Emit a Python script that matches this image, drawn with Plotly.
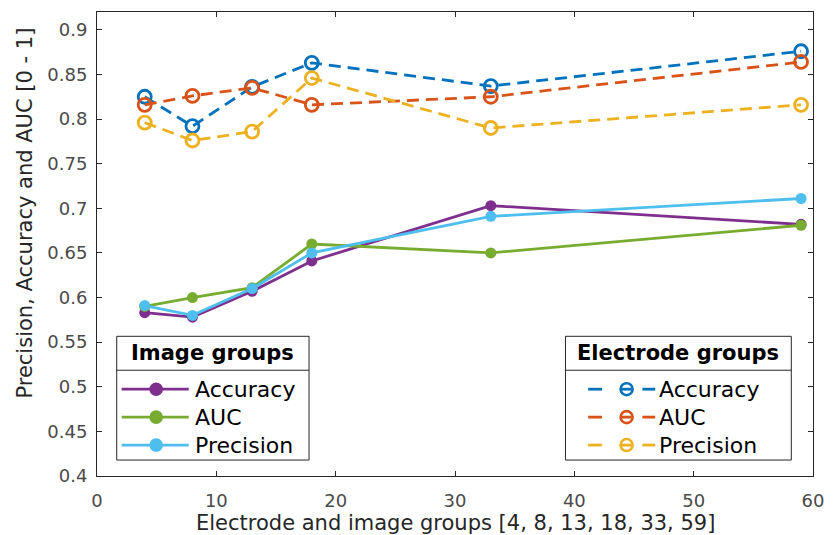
import plotly.graph_objects as go

# Group sizes (number of electrodes / images per group)
groups = [4, 8, 13, 18, 33, 59]

# Electrode-group metrics
elec_accuracy = [0.825, 0.792, 0.836, 0.863, 0.837, 0.876]
elec_auc = [0.816, 0.826, 0.835, 0.816, 0.825, 0.864]
elec_precision = [0.796, 0.776, 0.786, 0.846, 0.790, 0.816]

# Image-group metrics
img_accuracy = [0.583, 0.578, 0.607, 0.641, 0.703, 0.682]
img_auc = [0.590, 0.600, 0.611, 0.660, 0.650, 0.681]
img_precision = [0.591, 0.580, 0.610, 0.650, 0.691, 0.711]

metric_names = ["Accuracy", "AUC", "Precision"]
legend_titles = ["Image groups", "Electrode groups"]
x_title = "Electrode and image groups [4, 8, 13, 18, 33, 59]"
y_title = "Precision, Accuracy and AUC [0 - 1]"

img_colors = ["#7E2F8E", "#77AC30", "#4DBEEE"]
elec_colors = ["#0072BD", "#D95319", "#EDB120"]

FONT = "DejaVu Sans"
W, H = 835, 535
ML, MR, MT, MB = 97, 12, 11, 59
PW, PH = W - ML - MR, H - MT - MB


def px(x):
    return (x - ML) / PW


def py(y):
    return (H - MB - y) / PH


fig = go.Figure()

for name, vals, col in zip(metric_names, [img_accuracy, img_auc, img_precision], img_colors):
    fig.add_trace(go.Scatter(
        x=groups, y=vals, mode="lines+markers", name=name,
        line=dict(color=col, width=2.8),
        marker=dict(symbol="circle", size=11, color=col),
        showlegend=False,
    ))

for name, vals, col in zip(metric_names, [elec_accuracy, elec_auc, elec_precision], elec_colors):
    fig.add_trace(go.Scatter(
        x=groups, y=vals, mode="lines+markers", name=name,
        line=dict(color=col, width=2.8, dash="12px,7px"),
        marker=dict(symbol="circle-open", size=13, color=col, line=dict(width=2.8, color=col)),
        showlegend=False,
    ))

shapes = []
annotations = []

# Legend boxes drawn as framed panels with a title row
boxes = [
    dict(x0=117, x1=312, title=legend_titles[0], colors=img_colors, kind="solid"),
    dict(x0=572, x1=801, title=legend_titles[1], colors=elec_colors, kind="dashed"),
]
box_top, box_bot, sep_y = 336, 460, 370
row_y = [389, 417, 445]

for b in boxes:
    shapes.append(dict(type="rect", xref="paper", yref="paper",
                       x0=px(b["x0"]), x1=px(b["x1"]), y0=py(box_bot), y1=py(box_top),
                       fillcolor="white", line=dict(color="#262626", width=1), layer="above"))
    shapes.append(dict(type="line", xref="paper", yref="paper",
                       x0=px(b["x0"]), x1=px(b["x1"]), y0=py(sep_y), y1=py(sep_y),
                       line=dict(color="#262626", width=1), layer="above"))
    annotations.append(dict(xref="paper", yref="paper", x=px((b["x0"] + b["x1"]) / 2),
                            y=py((box_top + sep_y) / 2), text="<b>" + b["title"] + "</b>",
                            showarrow=False, xanchor="center", yanchor="middle",
                            font=dict(family=FONT, size=21, color="black")))
    for name, col, yy in zip(metric_names, b["colors"], row_y):
        if b["kind"] == "solid":
            segs = [(122, 190)]
            mx, r, fill, tx = 157, 5.5, col, 194
        else:
            segs = [(595, 609), (629, 639), (650, 663)]
            mx, r, fill, tx = 634, 6, "rgba(0,0,0,0)", 665
        for s0, s1 in segs:
            shapes.append(dict(type="line", xref="paper", yref="paper",
                               x0=px(s0), x1=px(s1), y0=py(yy), y1=py(yy),
                               line=dict(color=col, width=2.8), layer="above"))
        shapes.append(dict(type="circle", xref="paper", yref="paper",
                           xsizemode="pixel", ysizemode="pixel",
                           xanchor=px(mx), yanchor=py(yy), x0=-r, x1=r, y0=-r, y1=r,
                           fillcolor=fill, line=dict(color=col, width=2.6), layer="above"))
        annotations.append(dict(xref="paper", yref="paper", x=px(tx), y=py(yy),
                                text=name, showarrow=False, xanchor="left", yanchor="middle",
                                font=dict(family=FONT, size=22, color="black")))

# Axis titles
annotations.append(dict(xref="paper", yref="paper", x=px(461), y=py(523.5), text=x_title,
                        showarrow=False, xanchor="center", yanchor="middle",
                        font=dict(family=FONT, size=21, color="#262626")))
annotations.append(dict(xref="paper", yref="paper", x=px(24), y=py(213), text=y_title,
                        textangle=-90, showarrow=False, xanchor="center", yanchor="middle",
                        font=dict(family=FONT, size=21, color="#262626")))

axis_common = dict(
    showgrid=False, zeroline=False, showline=True, linecolor="#262626", linewidth=1,
    mirror="ticks", ticks="inside", ticklen=5, tickwidth=1, tickcolor="#262626",
    tickfont=dict(family=FONT, size=18, color="#4a4a4a"),
)

fig.update_layout(
    width=W, height=H,
    margin=dict(l=ML, r=MR, t=MT, b=MB),
    paper_bgcolor="white", plot_bgcolor="white",
    xaxis=dict(range=[0, 60], tickvals=[0, 10, 20, 30, 40, 50, 60], ticklabelstandoff=8, **axis_common),
    yaxis=dict(range=[0.4, 0.92], tickvals=[0.4, 0.45, 0.5, 0.55, 0.6, 0.65, 0.7, 0.75, 0.8, 0.85, 0.9],
               ticktext=["0.4", "0.45", "0.5", "0.55", "0.6", "0.65", "0.7", "0.75", "0.8", "0.85", "0.9"],
               ticklabelstandoff=5, **axis_common),
    shapes=shapes,
    annotations=annotations,
    showlegend=False,
)

fig.write_html("out.html")
